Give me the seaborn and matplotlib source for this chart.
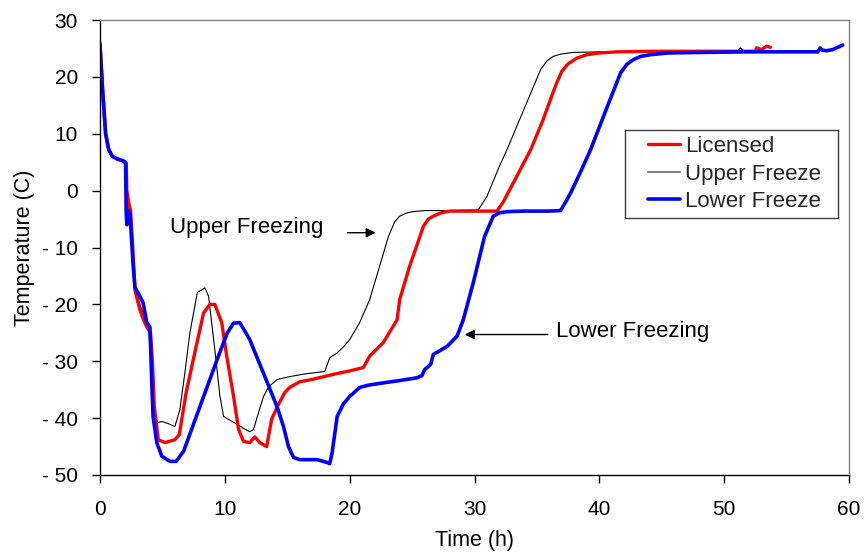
import matplotlib
matplotlib.use("Agg")
import matplotlib.pyplot as plt
from matplotlib.patches import Rectangle
import seaborn as sns
import pandas as pd

# Temperature logs (time in hours, temperature in C)
licensed_t = [0, 0.2, 0.45, 0.7, 1.0, 1.4, 1.8, 2.1, 2.15, 2.35, 2.45, 2.65, 2.8, 3.2, 3.45,
              3.75, 4.05, 4.2, 4.35, 4.67, 5.2, 6.0, 6.35, 6.9, 7.7, 8.3, 8.8, 9.2, 9.75, 10.15,
              10.7, 11.1, 11.5, 12.0, 12.4, 12.8, 13.35, 13.75, 14.2, 14.8, 15.2, 16.0, 17.0,
              18.7, 20.0, 21.1, 21.6, 22.7, 23.3, 23.8, 24.0, 24.8, 25.4, 25.9, 26.3, 26.7,
              27.3, 28.0, 30.0, 31.8, 32.3, 33.5, 34.5, 35.5, 36.5, 37.0, 37.5, 38.2, 39.0,
              40.0, 41.4, 44.0, 48.0, 52.5, 52.6, 53.0, 53.4, 53.7]
licensed_v = [26, 18, 10, 7.2, 6.0, 5.5, 5.2, 4.8, 0, -2.7, -3.5, -11, -17.5, -21, -22.5,
              -24, -25, -30, -38, -43.8, -44.3, -43.8, -42.9, -35.5, -27.4, -21.5, -20, -20,
              -23.2, -29.1, -36.2, -42, -44.1, -44.3, -43.3, -44.3, -45, -40.2, -38, -35.5,
              -34.6, -33.6, -33.2, -32.3, -31.7, -31.1, -29.1, -26.7, -24.5, -22.7, -19.2,
              -13.3, -9.5, -6.3, -5.0, -4.5, -3.9, -3.6, -3.6, -3.6, -2.0, 3.0, 7.2, 12.5,
              18.5, 21.0, 22.3, 23.3, 23.9, 24.2, 24.4, 24.5, 24.5, 24.5, 25.1, 24.8, 25.4, 25.2]

upper_t = [0, 0.2, 0.45, 0.7, 1.0, 1.4, 1.8, 2.1, 2.15, 2.3, 2.45, 2.65, 2.8, 3.2, 3.6,
           3.9, 4.1, 4.3, 4.6, 5.0, 5.5, 6.0, 6.4, 6.8, 7.2, 7.8, 8.4, 8.7, 9.2, 9.6, 9.9,
           10.5, 11.0, 11.5, 12.0, 12.3, 12.7, 13.1, 13.5, 14.2, 15.2, 16.5, 18.0, 18.4,
           19.0, 19.5, 20.0, 20.8, 21.6, 22.4, 23.1, 23.6, 24.0, 24.6, 25.1, 26.0, 28.0,
           30.3, 31.0, 32.0, 32.6, 34.0, 35.3, 35.8, 36.3, 36.9, 37.9, 40.0, 45.0, 51.0,
           51.3, 51.6, 53.0]
upper_v = [26, 18, 10, 7.2, 6.0, 5.5, 5.2, 4.8, 0, -3, -4, -11, -17, -20, -22.5, -24,
           -32, -38, -40.8, -40.6, -41, -41.5, -38.5, -32, -25, -17.9, -17.1, -18.6, -28,
           -36, -39.7, -40.5, -41.1, -41.8, -42.4, -42.0, -39, -36.2, -34.5, -33.2, -32.7,
           -32.2, -31.8, -29.4, -28.5, -27.5, -26.2, -23.2, -19.2, -13.3, -8.1, -5.5, -4.5,
           -3.9, -3.7, -3.5, -3.5, -3.4, -1.0, 4.3, 7.2, 14.5, 21.3, 22.8, 23.6, 24.0, 24.3,
           24.4, 24.4, 24.4, 25.1, 24.4, 24.5]

lower_t = [0, 0.2, 0.45, 0.7, 1.0, 1.4, 1.8, 2.05, 2.1, 2.15, 2.25, 2.4, 2.65, 2.8, 3.2,
           3.45, 3.75, 4.0, 4.15, 4.25, 4.55, 4.95, 5.6, 6.1, 6.7, 7.5, 8.5, 9.5, 10.2, 10.7,
           11.2, 12.0, 12.5, 13.3, 14.2, 14.7, 15.1, 15.5, 16.0, 17.4, 18.2, 18.4, 18.6,
           19.0, 19.5, 20.0, 20.8, 21.5, 22.7, 24.0, 25.4, 25.8, 26.0, 26.5, 26.7, 27.8,
           28.6, 29.1, 29.9, 30.8, 31.5, 32.0, 32.6, 34.0, 36.0, 36.9, 37.3, 37.7, 38.5,
           39.3, 40.5, 41.7, 42.2, 42.7, 43.3, 44.1, 45.5, 48.0, 52.0, 57.5, 57.7, 57.85,
           58.2, 58.7, 59.0, 59.5]
lower_v = [25.5, 18, 10, 7.2, 6.0, 5.6, 5.3, 5.0, -4, -6, -3.5, -4, -13, -17, -18.6,
           -19.7, -23.2, -24, -33.8, -39.7, -44.3, -46.7, -47.6, -47.6, -45.8, -41, -35,
           -29, -25, -23.3, -23.2, -26.2, -28.9, -33.2, -38.1, -41.5, -45, -46.9, -47.3,
           -47.3, -47.8, -48, -46, -39.7, -37.5, -36.2, -34.6, -34.2, -33.8, -33.4, -32.9,
           -32.5, -31.5, -30.5, -28.8, -27.4, -25.6, -22.7, -16.2, -8.1, -4.5, -3.9, -3.7,
           -3.6, -3.6, -3.5, -2.0, -0.4, 3.3, 7.2, 14.0, 20.7, 22.2, 23.0, 23.6, 23.9, 24.2,
           24.3, 24.4, 24.4, 25.1, 24.7, 24.6, 24.8, 25.1, 25.6]

series_names = ["Licensed", "Upper Freeze", "Lower Freeze"]
xticks = [0, 10, 20, 30, 40, 50, 60]
yticks = [-50, -40, -30, -20, -10, 0, 10, 20, 30]
ytick_labels = ["- 50", "- 40", "- 30", "- 20", "- 10", "0", "10", "20", "30"]

sns.set_theme(style="white")
plt.rcParams["font.family"] = ["Liberation Sans", "DejaVu Sans"]

fig = plt.figure(figsize=(8.65, 5.53), dpi=100)
ax = fig.add_axes([100 / 865, 1 - 475 / 553, 749 / 865, 455 / 553])

df_lic = pd.DataFrame({"t": licensed_t, "T": licensed_v})
df_up = pd.DataFrame({"t": upper_t, "T": upper_v})
df_low = pd.DataFrame({"t": lower_t, "T": lower_v})

sns.lineplot(data=df_up, x="t", y="T", ax=ax, color="black", linewidth=0.8,
             estimator=None, sort=False, label=series_names[1])
sns.lineplot(data=df_lic, x="t", y="T", ax=ax, color="#ff0000", linewidth=2.4,
             estimator=None, sort=False, label=series_names[0])
sns.lineplot(data=df_low, x="t", y="T", ax=ax, color="#0000ff", linewidth=2.6,
             estimator=None, sort=False, label=series_names[2])

ax.set_xlim(0, 60)
ax.set_ylim(-50, 30)
ax.set_xticks(xticks)
ax.set_yticks(yticks)
ax.set_yticklabels(ytick_labels)
ax.tick_params(axis="both", direction="out", length=6, width=1, color="black",
               labelsize=15, labelcolor="black")
ax.tick_params(axis="x", pad=12)
ax.tick_params(axis="y", pad=10)
ax.tick_params(axis="both", which="both", bottom=True, left=True)

for side in ["left", "bottom"]:
    ax.spines[side].set_color("black")
    ax.spines[side].set_linewidth(1.0)
for side in ["top", "right"]:
    ax.spines[side].set_color("#808080")
    ax.spines[side].set_linewidth(1.0)

ax.set_xlabel("Time (h)", fontsize=15.5, color="black", labelpad=8)
ax.set_ylabel("Temperature (C)", fontsize=15.5, color="black", labelpad=5)

# Annotations
ax.annotate("", xy=(22.3, -7.4), xytext=(19.6, -7.4),
            arrowprops=dict(arrowstyle="-|>", color="black", lw=1, mutation_scale=14))
ax.text(5.6, -6.5, "Upper Freezing", fontsize=16, ha="left", va="center", color="black")
ax.annotate("", xy=(29.0, -25.3), xytext=(36.1, -25.3),
            arrowprops=dict(arrowstyle="-|>", color="black", lw=1, mutation_scale=14))
ax.text(36.5, -24.8, "Lower Freezing", fontsize=16, ha="left", va="center", color="black")

# Legend: entries centred inside a plain rectangular box
box_x0, box_y0, box_w, box_h = 0.701, 0.565, 0.284, 0.193
ax.add_patch(Rectangle((box_x0, box_y0), box_w, box_h, transform=ax.transAxes,
                       facecolor="white", edgecolor="#404040", linewidth=1.0, zorder=5))
handles, labels = ax.get_legend_handles_labels()
order = [labels.index(n) for n in series_names]
leg = ax.legend([handles[i] for i in order], [labels[i] for i in order],
                loc="center", bbox_to_anchor=(box_x0 + box_w / 2 + 0.004, box_y0 + box_h / 2),
                borderaxespad=0, fontsize=16, frameon=False,
                handlelength=1.45, handletextpad=0.25, labelspacing=0.3,
                borderpad=0.2)
leg.set_zorder(6)
for line in leg.get_lines():
    if line.get_label() == "Upper Freeze":
        line.set_color("#808080")
        line.set_linewidth(1.5)

fig.savefig("out.png", dpi=100)
